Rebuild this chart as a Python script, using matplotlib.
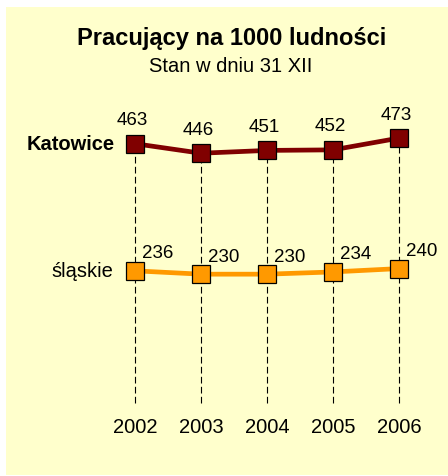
import matplotlib.pyplot as plt
from matplotlib.patches import Rectangle

years = [2002, 2003, 2004, 2005, 2006]
katowice = [463, 446, 451, 452, 473]
slaskie = [236, 230, 230, 234, 240]

plt.rcParams['font.family'] = ['Liberation Sans', 'DejaVu Sans']

fig = plt.figure(figsize=(4.48, 4.77), dpi=100)
fig.patch.set_facecolor('white')
fig.patches.append(Rectangle((6/448, 1/477), 1, 468/477, transform=fig.transFigure,
                             facecolor='#FFFFCC', edgecolor='none', zorder=-10))

ax = fig.add_axes([0, 0, 1, 1])
ax.set_facecolor('none')
ax.set_xlim(1999.955, 2006.742)
ax.set_ylim(-130.4, 721.4)
ax.axis('off')

# drop lines
ax.vlines(years, 0, katowice, colors='black', linestyles=(0, (6, 3)), linewidth=0.8, zorder=1)

ax.plot(years, katowice, color='#800000', linewidth=3.4, marker='s', markersize=13.5,
        markerfacecolor='#800000', markeredgecolor='black', markeredgewidth=0.9, zorder=3)
ax.plot(years, slaskie, color='#FF9900', linewidth=3.4, marker='s', markersize=13.5,
        markerfacecolor='#FF9900', markeredgecolor='black', markeredgewidth=0.9, zorder=3)

for x, v in zip(years, katowice):
    ax.annotate(str(v), (x, v), xytext=(-3, 24), textcoords='offset pixels',
                ha='center', va='center', fontsize=13.5)
for x, v in zip(years, slaskie):
    ax.annotate(str(v), (x, v), xytext=(23, 18), textcoords='offset pixels',
                ha='center', va='center', fontsize=13.5)

for x in years:
    ax.annotate(str(x), (x, 0), xytext=(0, -24), textcoords='offset pixels',
                ha='center', va='center', fontsize=14.5)

ax.annotate('Katowice', (years[0], katowice[0]), xytext=(-20, 0), textcoords='offset pixels',
            ha='right', va='center', fontsize=14.5, fontweight='bold')
ax.annotate('śląskie', (years[0], slaskie[0]), xytext=(-22, 0), textcoords='offset pixels',
            ha='right', va='center', fontsize=14.5)

fig.text(232/448, 1 - 39/477, 'Pracujący na 1000 ludności', ha='center', va='center',
         fontsize=17, fontweight='bold')
fig.text(231/448, 1 - 66/477, 'Stan w dniu 31 XII', ha='center', va='center', fontsize=14.5)

fig.savefig('out.png', dpi=100)
